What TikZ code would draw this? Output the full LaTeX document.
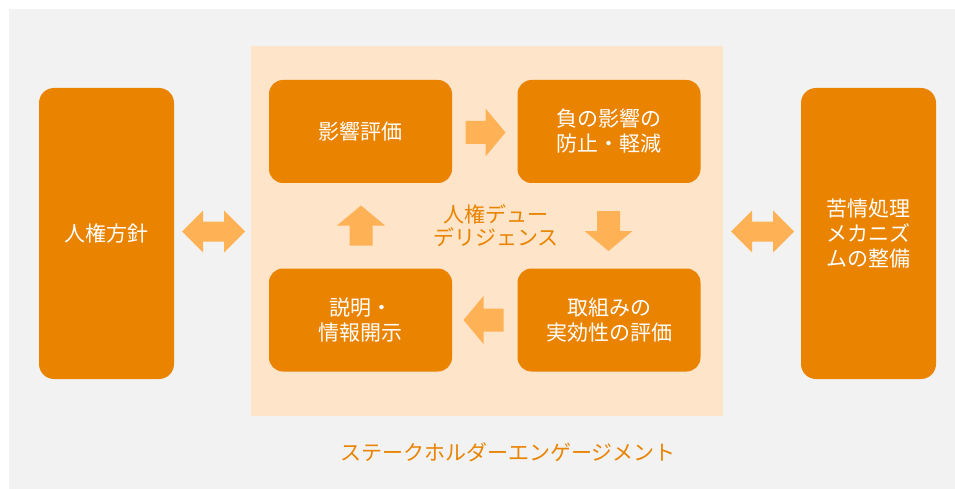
\documentclass[tikz,border=0pt]{standalone}
\usepackage{fontspec}
\setmainfont{Noto Sans CJK JP}
\definecolor{darkorange}{HTML}{E98300}
\definecolor{lightorange}{HTML}{FFB155}
\definecolor{peach}{HTML}{FEE4C8}
\definecolor{bggray}{HTML}{F2F2F2}
\tikzset{
  blockarrow/.pic={\fill[lightorange] (-20,-11.5) -- (0,-11.5) -- (0,-24) -- (20,0) -- (0,24) -- (0,11.5) -- (-20,11.5) -- cycle;},
  dblarrow/.pic={\fill[lightorange] (-31.5,0) -- (-10.5,-21) -- (-10.5,-10) -- (10.5,-10) -- (10.5,-21) -- (31.5,0) -- (10.5,21) -- (10.5,10) -- (-10.5,10) -- (-10.5,21) -- cycle;}
}
\begin{document}
\begin{tikzpicture}[x=1pt,y=-1pt]
\tikzstyle{bigbox}=[fill=darkorange, rounded corners=15pt, minimum width=135pt, minimum height=291pt, text=white, align=center, inner sep=0pt, font=\fontsize{21}{25}\selectfont]
\tikzstyle{stepbox}=[fill=darkorange, rounded corners=14pt, minimum width=183pt, minimum height=103pt, text=white, align=center, inner sep=0pt, font=\fontsize{21}{25}\selectfont]
\tikzstyle{label}=[text=darkorange, align=center, inner sep=0pt, font=\fontsize{21}{23}\selectfont]

\useasboundingbox (0,0) rectangle (955,489);
\fill[bggray] (9,9) rectangle (955,489);
\fill[peach] (251,46) rectangle (723,416);

\node[bigbox] (policy) at (106.5,233.5) {人権方針};
\node[bigbox] (grievance) at (868.5,233.5) {苦情処理\\メカニズ\\ムの整備};

\node[stepbox] (assess) at (360.5,131.5) {影響評価};
\node[stepbox] (prevent) at (609,131.5) {負の影響の\\防止・軽減};
\node[stepbox] (track) at (609,320) {取組みの\\実効性の評価};
\node[stepbox] (disclose) at (360.5,320) {説明・\\情報開示};

\node[label] (dd) at (496,226) {人権デュー\\デリジェンス};
\node[label] (engage) at (508,452) {ステークホルダーエンゲージメント};

\pic at (485.5,132.5) {blockarrow};
\pic[rotate=-90] at (608.5,231) {blockarrow};
\pic[rotate=180] at (483.5,320) {blockarrow};
\pic[rotate=90] at (361,225.5) {blockarrow};

\pic at (213.5,231.5) {dblarrow};
\pic at (762.5,231.5) {dblarrow};
\end{tikzpicture}
\end{document}
